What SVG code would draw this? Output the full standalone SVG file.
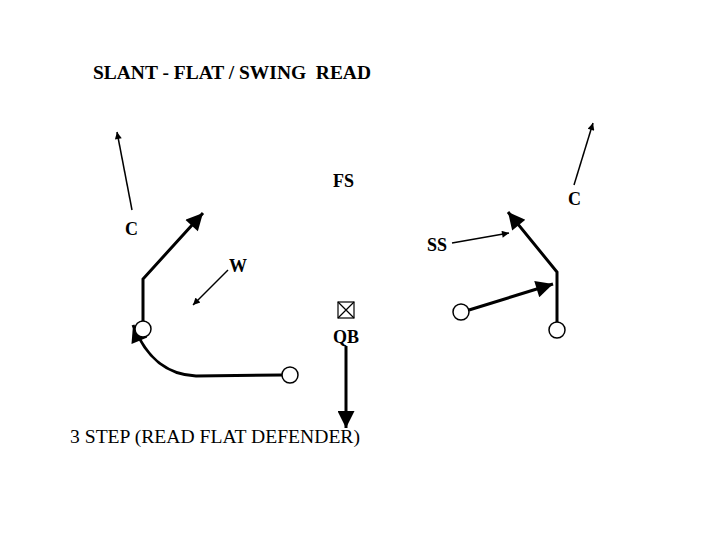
<svg xmlns="http://www.w3.org/2000/svg" width="720" height="540" viewBox="0 0 720 540">
<style>
  text { font-family: "Liberation Serif", "Times New Roman", serif; font-size: 18px; fill: #000; }
  .b { font-weight: bold; }
  .big { font-size: 19.5px; }
  .thin { stroke: #000; stroke-width: 1.5; fill: none; }
  .thick { stroke: #000; stroke-width: 3; fill: none; }
  .player { fill: #fff; stroke: #000; stroke-width: 1.5; }
</style>
<defs>
  <marker id="small" viewBox="0 0 10 10" refX="10" refY="5" markerWidth="10" markerHeight="7" markerUnits="userSpaceOnUse" orient="auto">
    <path d="M0,0 L10,5 L0,10 Z" fill="#000"/>
  </marker>
  <marker id="big" viewBox="0 0 10 10" refX="10" refY="5" markerWidth="23" markerHeight="17" markerUnits="userSpaceOnUse" orient="auto">
    <path d="M0,0 L10,5 L0,10 Z" fill="#000"/>
  </marker>
</defs>
<rect width="720" height="540" fill="#fff"/>
<text id="title" class="b big" x="93" y="79" textLength="278" lengthAdjust="spacingAndGlyphs" style="white-space:pre">SLANT - FLAT / SWING  READ</text>
<text id="caption" class="big" x="70" y="443" textLength="290" lengthAdjust="spacingAndGlyphs">3 STEP (READ FLAT DEFENDER)</text>

<g id="connectors">
  <line class="thin" x1="132" y1="210" x2="117" y2="132" marker-end="url(#small)"/>
  <line class="thin" x1="228" y1="270" x2="193" y2="305" marker-end="url(#small)"/>
  <polyline class="thick" points="143,321 143,279 203,213" marker-end="url(#big)"/>
  <path class="thick" d="M282,375 L196,376 C170,375 148,362 133,325" marker-end="url(#big)"/>
  <line class="thick" x1="346" y1="346" x2="346" y2="428" marker-end="url(#big)"/>
  <line class="thin" x1="452" y1="243" x2="509" y2="233" marker-end="url(#small)"/>
  <line class="thin" x1="574" y1="185" x2="593" y2="123" marker-end="url(#small)"/>
  <line class="thick" x1="469" y1="310" x2="553" y2="284" marker-end="url(#big)"/>
  <polyline class="thick" points="557,322 557,272 508,212" marker-end="url(#big)"/>
</g>

<g id="C-left"><text class="b" x="125" y="235">C</text></g>
<g id="W"><text class="b" x="229" y="272">W</text></g>
<g id="FS"><text class="b" x="333" y="187">FS</text></g>
<g id="SS"><text class="b" x="427" y="251">SS</text></g>
<g id="C-right"><text class="b" x="568" y="205">C</text></g>
<g id="QB">
  <rect x="338" y="302" width="16" height="16" fill="#fff" stroke="#000" stroke-width="1.2"/>
  <path d="M338,302 L354,318 M354,302 L338,318" stroke="#000" stroke-width="1.2"/>
  <text class="b" x="333" y="343">QB</text>
</g>
<g id="WR-left"><circle class="player" cx="143" cy="329" r="8"/></g>
<g id="RB-left"><circle class="player" cx="290" cy="375" r="8"/></g>
<g id="TE-right"><circle class="player" cx="461" cy="312" r="8"/></g>
<g id="WR-right"><circle class="player" cx="557" cy="330" r="8"/></g>
</svg>
